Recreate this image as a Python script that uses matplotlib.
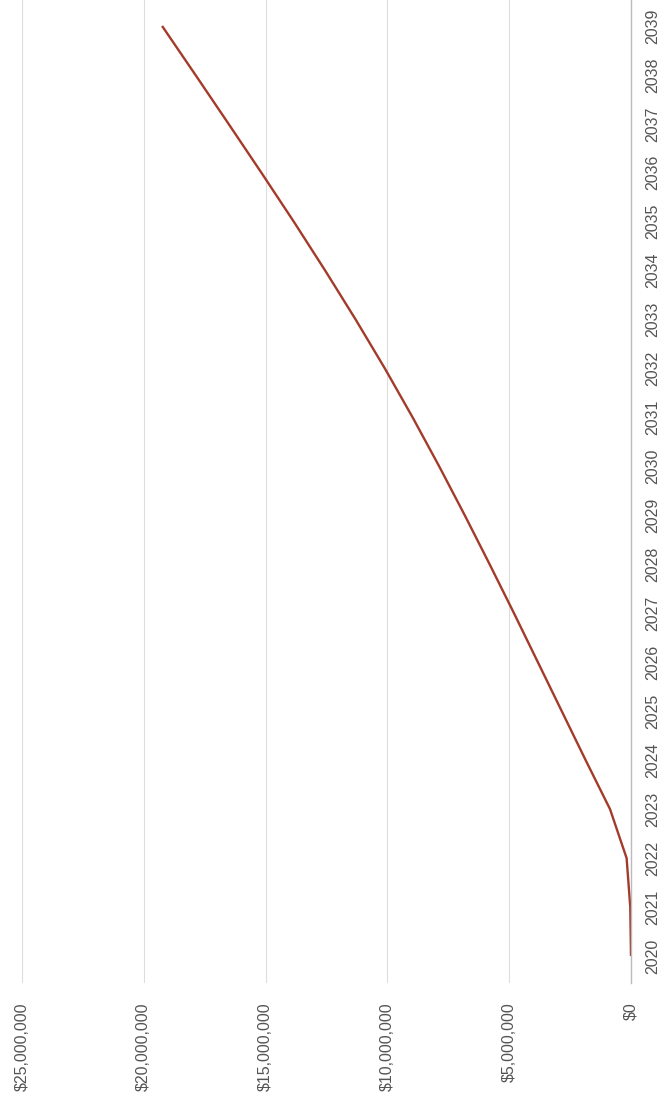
import matplotlib.pyplot as plt
from matplotlib.ticker import FuncFormatter

years = [2020, 2021, 2022, 2023, 2024, 2025, 2026, 2027, 2028, 2029,
         2030, 2031, 2032, 2033, 2034, 2035, 2036, 2037, 2038, 2039]
# cumulative value in millions of dollars
values_m = [0.00, 0.03, 0.18, 0.86, 1.86, 2.84, 3.82, 4.80, 5.80, 6.82,
            7.87, 8.96, 10.10, 11.30, 12.55, 13.84, 15.17, 16.52, 17.88, 19.25]
dollar_ticks = [0, 5e6, 10e6, 15e6, 20e6, 25e6]

plt.rcParams['font.family'] = ['Liberation Sans', 'DejaVu Sans']

fig = plt.figure(figsize=(6.65, 10.99), dpi=100)
ax = fig.add_axes([22 / 665, 1 - 983 / 1099, (631 - 22) / 665, 983 / 1099])

values = [v * 1e6 for v in values_m]
ax.plot(values, years, color='#a33b2b', linewidth=1.7, solid_capstyle='butt')

ax.set_xlim(25e6, 0)
ax.set_ylim(2019.45, 2039.53)

ax.set_xticks(dollar_ticks)
ax.xaxis.set_major_formatter(FuncFormatter(lambda v, p: '${:,.0f}'.format(v)))
ax.set_yticks(years)
ax.set_yticklabels([str(y) for y in years])
ax.yaxis.tick_right()

ax.tick_params(axis='x', length=0, pad=14, labelsize=11.5, labelcolor='#555555',
               labelrotation=90)
ax.tick_params(axis='y', length=0, pad=10, labelsize=11.5, labelcolor='#555555',
               labelrotation=90)
for lbl in ax.get_yticklabels():
    lbl.set_verticalalignment('center')

ax.grid(axis='x', color='#dddddd', linewidth=0.8)
ax.set_axisbelow(True)
for side in ['top', 'left', 'bottom']:
    ax.spines[side].set_visible(False)
ax.spines['right'].set_color('#bbbbbb')
ax.spines['right'].set_linewidth(1.0)

fig.savefig('out.png', dpi=100)
